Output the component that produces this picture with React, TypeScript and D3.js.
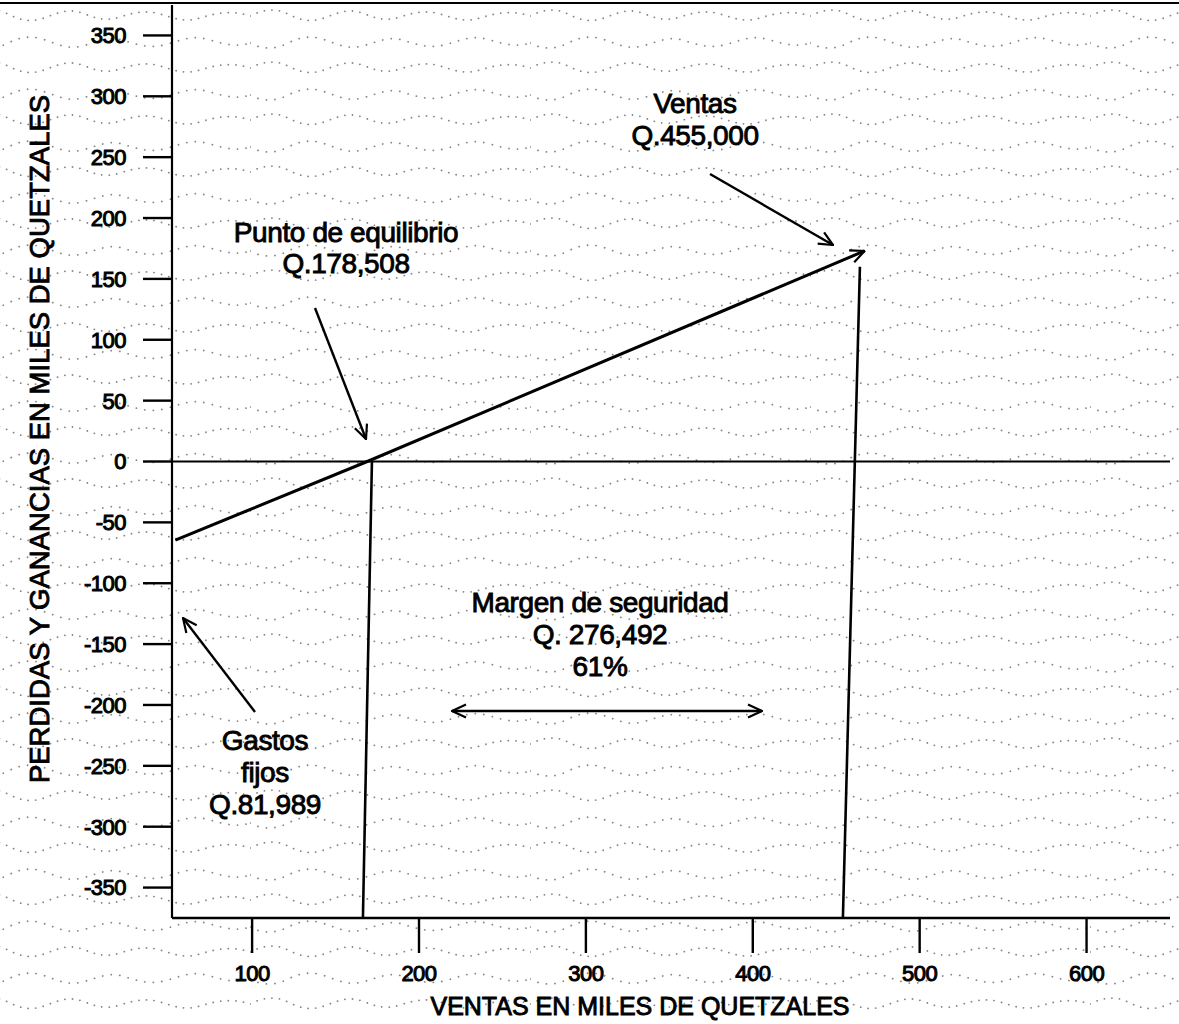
import React, { useEffect } from "react";
import * as d3 from "d3";

// ---- data ----
const yTicks = [-350, -300, -250, -200, -150, -100, -50, 0, 50, 100, 150, 200, 250, 300, 350];
const xTicks = [100, 200, 300, 400, 500, 600];
// profit / loss line (thousands of Q)
const profitX = [54, 169, 467];
const profitY = [-64.5, 0, 173];
// drop lines (breakeven, sales) as drawn (slightly skewed scan)
const dropTopX = [171.8, 464.2];
const dropTopY = [0, 160];
const dropBottomX = [166.4, 454];
const yTitle = "PERDIDAS Y GANANCIAS EN MILES DE QUETZALES";
const xTitle = "VENTAS EN MILES DE QUETZALES";
const ventasLabel = ["Ventas", "Q.455,000"];
const puntoLabel = ["Punto de equilibrio", "Q.178,508"];
const margenLabel = ["Margen de seguridad", "Q. 276,492", "61%"];
const gastosLabel = ["Gastos", "fijos", "Q.81,989"];

const W = 1179;
const H = 1024;

export default function App() {
  useEffect(() => {
    document.body.style.margin = "0";
  }, []);

  const x = d3.scaleLinear().domain([52, 650]).range([172, 1170]);
  const y = d3.scaleLinear().domain([-375, 375]).range([918, 5]);

  const line = d3
    .line<number>()
    .x((d) => x(d))
    .y((_, i) => y(profitY[i]));
  const profitPath = line(profitX) || "";

  const font = "'Liberation Sans', Arial, Helvetica, sans-serif";
  const textStyle = {
    fontFamily: font,
    fill: "#000",
    stroke: "#000",
    strokeWidth: 0.9,
  } as React.CSSProperties;
  const tickStyle = { ...textStyle, strokeWidth: 1 } as React.CSSProperties;

  // irregular scan-moire background (decorative)
  const waveA =
    "M0,12 C14,5 26,4 38,10 S60,19 74,14 S98,4 112,9 S134,18 150,13 S176,6 190,10 S214,19 230,14 S262,6 280,12";
  const waveB =
    "M0,39 C10,45 24,46 36,40 S58,31 72,35 S96,46 112,42 S138,32 152,36 S178,45 194,41 S220,31 236,35 S264,44 280,39";

  return (
    <svg
      width={W}
      height={H}
      viewBox={`0 0 ${W} ${H}`}
      style={{ position: "absolute", left: 0, top: 0, background: "#fff" }}
    >
      <defs>
        <pattern id="scan" width="280" height="52" patternUnits="userSpaceOnUse" x="-30" y="4">
          <path
            d={waveA}
            fill="none"
            stroke="#555"
            strokeWidth={1.8}
            strokeDasharray="0.1 7.5"
            strokeLinecap="round"
          />
          <path
            d={waveB}
            fill="none"
            stroke="#555"
            strokeWidth={1.8}
            strokeDasharray="0.1 8.5"
            strokeLinecap="round"
          />
        </pattern>
        <marker
          id="arrowV"
          viewBox="0 0 16 16"
          refX="15"
          refY="8"
          markerWidth="16"
          markerHeight="16"
          markerUnits="userSpaceOnUse"
          orient="auto-start-reverse"
        >
          <path d="M1,1.5 L15,8 L1,14.5" fill="none" stroke="#000" strokeWidth={2.2} />
        </marker>
      </defs>

      <rect x={0} y={0} width={W} height={H} fill="#fff" />
      <rect x={0} y={0} width={W} height={H} fill="url(#scan)" opacity={0.7} />

      {/* top border */}
      <line x1={0} x2={W} y1={3} y2={3} stroke="#000" strokeWidth={2} />

      {/* axes */}
      <line x1={x(52)} x2={x(52)} y1={5} y2={y(-375)} stroke="#000" strokeWidth={2.2} />
      <line x1={x(52)} x2={x(650)} y1={y(-375)} y2={y(-375)} stroke="#000" strokeWidth={2.6} />
      <line x1={x(52)} x2={x(650)} y1={y(0)} y2={y(0)} stroke="#000" strokeWidth={2} />

      {/* y ticks */}
      {yTicks.map((t) => (
        <g key={"y" + t}>
          <line x1={143} x2={x(52)} y1={y(t)} y2={y(t)} stroke="#000" strokeWidth={2.4} />
          <text
            x={126}
            y={y(t)}
            dy="0.36em"
            textAnchor="end"
            fontSize={22}
            style={tickStyle}
            letterSpacing={-0.5}
          >
            {t}
          </text>
        </g>
      ))}

      {/* x ticks */}
      {xTicks.map((t) => (
        <g key={"x" + t}>
          <line x1={x(t)} x2={x(t)} y1={y(-375)} y2={953} stroke="#000" strokeWidth={2.4} />
          <text
            x={x(t)}
            y={981}
            textAnchor="middle"
            fontSize={22}
            style={tickStyle}
            letterSpacing={-0.5}
          >
            {t}
          </text>
        </g>
      ))}

      {/* drop lines */}
      {dropTopX.map((tx, i) => (
        <line
          key={"drop" + i}
          x1={x(tx)}
          y1={y(dropTopY[i])}
          x2={x(dropBottomX[i])}
          y2={y(-375)}
          stroke="#000"
          strokeWidth={2.6}
        />
      ))}

      {/* profit line */}
      <path d={profitPath} fill="none" stroke="#000" strokeWidth={3} markerEnd="url(#arrowV)" />

      {/* annotation arrows */}
      <line x1={315} y1={308} x2={366} y2={439} stroke="#000" strokeWidth={2.4} markerEnd="url(#arrowV)" />
      <line x1={710} y1={174} x2={833} y2={245} stroke="#000" strokeWidth={2.4} markerEnd="url(#arrowV)" />
      <line x1={255} y1={712} x2={183} y2={618} stroke="#000" strokeWidth={2.4} markerEnd="url(#arrowV)" />
      <line
        x1={452}
        y1={711}
        x2={762}
        y2={711}
        stroke="#000"
        strokeWidth={2.4}
        markerStart="url(#arrowV)"
        markerEnd="url(#arrowV)"
      />

      {/* annotation texts */}
      {ventasLabel.map((s, i) => (
        <text key={"v" + i} x={695} y={113 + i * 32} textAnchor="middle" fontSize={28} style={textStyle} letterSpacing={-0.4}>
          {s}
        </text>
      ))}
      {puntoLabel.map((s, i) => (
        <text key={"p" + i} x={346} y={242 + i * 31} textAnchor="middle" fontSize={28} style={textStyle} letterSpacing={-0.4}>
          {s}
        </text>
      ))}
      {margenLabel.map((s, i) => (
        <text key={"m" + i} x={600} y={612 + i * 32} textAnchor="middle" fontSize={28} style={textStyle} letterSpacing={-0.4}>
          {s}
        </text>
      ))}
      {gastosLabel.map((s, i) => (
        <text key={"g" + i} x={265} y={750 + i * 32} textAnchor="middle" fontSize={28} style={textStyle} letterSpacing={-0.4}>
          {s}
        </text>
      ))}

      {/* axis titles */}
      <text
        transform={`translate(49, 439) rotate(-90)`}
        textAnchor="middle"
        fontSize={27.5}
        style={textStyle}
      >
        {yTitle}
      </text>
      <text x={640} y={1015} textAnchor="middle" fontSize={25} style={textStyle}>
        {xTitle}
      </text>
    </svg>
  );
}
